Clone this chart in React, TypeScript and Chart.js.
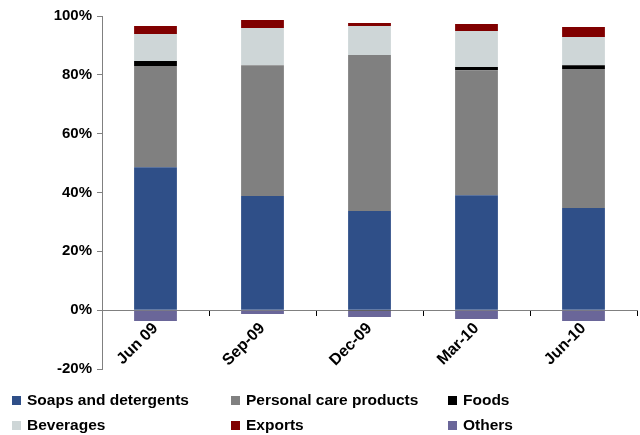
import React, { useEffect, useRef } from "react";
import { Chart, registerables } from "chart.js";

Chart.register(...registerables);

const categories = ["Jun 09", "Sep-09", "Dec-09", "Mar-10", "Jun-10"];
const seriesNames = ["Soaps and detergents", "Personal care products", "Foods", "Beverages", "Exports", "Others"];
const soaps = [48.6, 38.8, 33.7, 39.1, 34.7];
const personalCare = [34.4, 44.5, 53.0, 42.5, 47.3];
const foods = [1.7, 0, -0.3, 1.1, 1.3];
const beverages = [9.2, 12.6, 9.9, 12.2, 9.6];
const exportsData = [2.7, 2.7, 1.0, 2.4, 3.4];
const others = [-3.7, -1.3, -2.0, -3.0, -3.7];
const seriesColors = ["#2F4F88", "#808080", "#000000", "#CED6D7", "#800000", "#6A6699"];
const yMin = -20;
const yMax = 100;
const yStep = 20;

const seriesValues = [soaps, personalCare, foods, beverages, exportsData, others];
const FONT = "'Liberation Sans', Arial, sans-serif";

export default function App() {
  const canvasRef = useRef<HTMLCanvasElement>(null);

  useEffect(() => {
    document.body.style.margin = "0";
    const ctx = canvasRef.current!;
    const chart = new Chart(ctx, {
      type: "bar",
      data: {
        labels: categories,
        datasets: seriesNames.map((name, i) => ({
          label: name,
          data: seriesValues[i],
          backgroundColor: seriesColors[i],
          borderWidth: 0,
          barPercentage: 0.4,
          categoryPercentage: 1.0,
        })),
      },
      options: {
        animation: false,
        responsive: false,
        maintainAspectRatio: false,
        layout: { padding: { left: 0, top: 16, right: 3, bottom: 66 } },
        plugins: { legend: { display: false }, tooltip: { enabled: false } },
        scales: {
          x: {
            stacked: true,
            position: { y: 0 } as any,
            grid: { offset: true, drawOnChartArea: false, drawTicks: true, tickLength: 5, color: "#000000" },
            border: { display: true, color: "#808080", width: 1 },
            ticks: {
              minRotation: 45,
              maxRotation: 45,
              padding: 4,
              color: "#000000",
              font: { family: FONT, size: 16, weight: "bold" },
            },
          },
          y: {
            stacked: true,
            min: yMin,
            max: yMax,
            afterFit: (scale: any) => {
              scale.width = 102;
            },
            grid: { drawOnChartArea: false, drawTicks: true, tickLength: 5, color: "#808080" },
            border: { display: true, color: "#808080", width: 1 },
            ticks: {
              stepSize: yStep,
              padding: 5,
              color: "#000000",
              font: { family: FONT, size: 15, weight: "bold" },
              callback: (v: any) => `${v}%`,
            },
          },
        },
      },
    });
    return () => chart.destroy();
  }, []);

  const colLeft = [12, 231, 448];
  const rowTop = [400, 425];

  return (
    <div style={{ position: "relative", width: 640, height: 435, background: "#fff" }}>
      <canvas ref={canvasRef} width={640} height={435} style={{ display: "block" }} />
      {seriesNames.map((name, i) => (
        <div
          key={name}
          style={{
            position: "absolute",
            left: colLeft[i % 3],
            top: rowTop[Math.floor(i / 3)] - 10,
            height: 20,
            display: "flex",
            alignItems: "center",
            fontFamily: FONT,
            fontWeight: "bold",
            fontSize: 15.5,
            color: "#000",
            whiteSpace: "nowrap",
          }}
        >
          <span style={{ display: "inline-block", width: 9, height: 9, background: seriesColors[i], marginRight: 6 }} />
          <span>{name}</span>
        </div>
      ))}
    </div>
  );
}
